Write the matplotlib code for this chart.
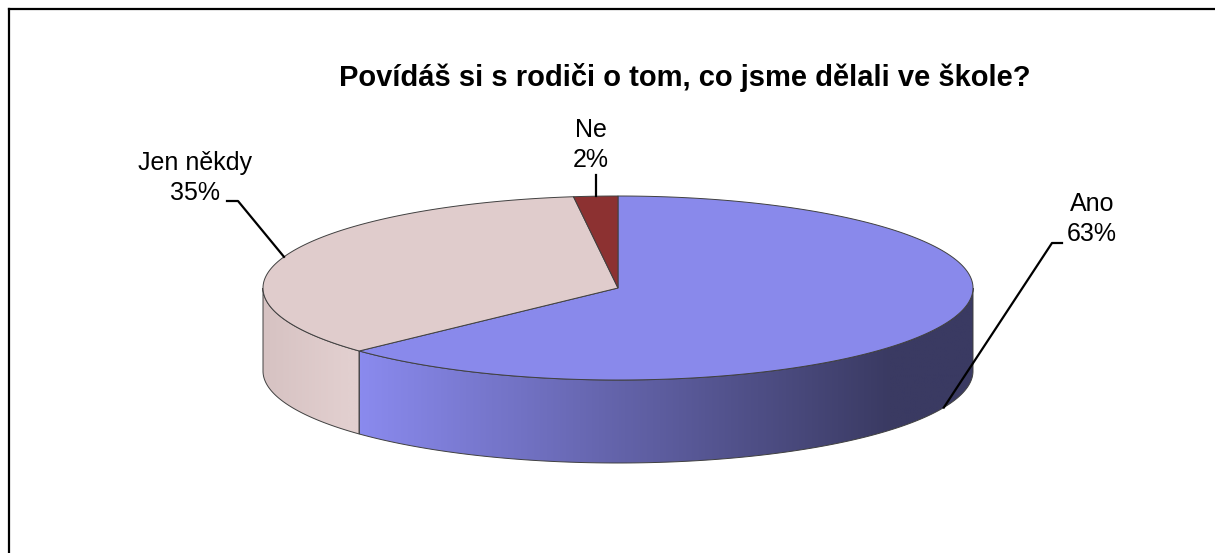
import numpy as np
import matplotlib
matplotlib.use('Agg')
import matplotlib.pyplot as plt
from matplotlib.patches import Polygon
from matplotlib.colors import LinearSegmentedColormap

plt.rcParams['font.family'] = ['Liberation Sans', 'DejaVu Sans']

title = 'Povídáš si s rodiči o tom, co jsme dělali ve škole?'
categories = ['Ano', 'Jen někdy', 'Ne']
values = [63, 35, 2]
top_colors = ['#8989eb', '#e0cccc', '#8c3131']
side_colors = [('#8a8aee', '#3a3a62'), ('#d6c2c2', '#e2cfcf'), ('#7a2a2a', '#5a1e1e')]

# label layout (pixels): text centre, elbow start, elbow end
label_pos = [(1092, 219), (195, 178), (591, 145)]
elbows = [((1062, 243), (1052, 243)), ((227, 201), (238, 201)), None]

# pie geometry in pixels
cx, cy = 618, 288
rx, ry = 355, 92
depth = 83

fig = plt.figure(figsize=(12.15, 5.53), dpi=100)
ax = fig.add_axes([0, 0, 1, 1])
ax.set_xlim(0, 1215)
ax.set_ylim(553, 0)
ax.axis('off')

# chart frame (only top and left sides are in view)
ax.plot([9, 1215], [9, 9], color='black', lw=1.6)
ax.plot([9, 9], [9, 553], color='black', lw=1.6)


def ell(t, dy=0):
    t = np.radians(t)
    return cx + rx * np.cos(t), cy - ry * np.sin(t) + dy


fracs = np.array(values) / np.sum(values)
ends = 90 - np.cumsum(fracs) * 360
starts = np.concatenate([[90], ends[:-1]])

# side walls (front half: -180..0)
for i in range(len(values)):
    a0, a1 = max(ends[i], -180), min(starts[i], 0)
    if a1 <= a0:
        continue
    t = np.linspace(a0, a1, 200)
    xt, yt = ell(t)
    xb, yb = ell(t[::-1], depth)
    poly = Polygon(np.column_stack([np.concatenate([xt, xb]), np.concatenate([yt, yb])]),
                   closed=True, facecolor='none', edgecolor='#404040', lw=0.7, zorder=3)
    ax.add_patch(poly)
    x0, x1 = xt.min(), xt.max()
    cmap = LinearSegmentedColormap.from_list('s%d' % i, side_colors[i])
    grad = np.clip((np.linspace(x0, x1, 300) - x0) / max(x1 - x0, 1) * 1.15, 0, 1)
    im = ax.imshow(grad[None, :], cmap=cmap, vmin=0, vmax=1, aspect='auto',
                   extent=(x0, x1, cy + depth + ry + 2, cy - 2), zorder=2)
    im.set_clip_path(poly)

# top faces
for i in range(len(values)):
    t = np.linspace(ends[i], starts[i], 300)
    xt, yt = ell(t)
    pts = np.column_stack([np.concatenate([[cx], xt]), np.concatenate([[cy], yt])])
    ax.add_patch(Polygon(pts, closed=True, facecolor=top_colors[i],
                         edgecolor='#404040', lw=0.7, zorder=4))

# labels and leader lines
for i, cat in enumerate(categories):
    mid = (starts[i] + ends[i]) / 2
    px, py = ell(mid)
    if np.sin(np.radians(mid)) < 0:
        py += depth
    lx, ly = label_pos[i]
    ax.text(lx, ly, '%s\n%d%%' % (cat, values[i]), ha='center', va='center',
            fontsize=18, linespacing=1.32, zorder=6)
    if elbows[i] is None:
        ax.plot([px, px], [py, ly + 30], color='black', lw=1.6, zorder=5)
    else:
        (ex0, ey0), (ex1, ey1) = elbows[i]
        ax.plot([ex0, ex1, px], [ey0, ey1, py], color='black', lw=1.6, zorder=5)

ax.text(685, 78, title, ha='center', va='center', fontsize=21, fontweight='bold')

fig.savefig('out.png', dpi=100)
